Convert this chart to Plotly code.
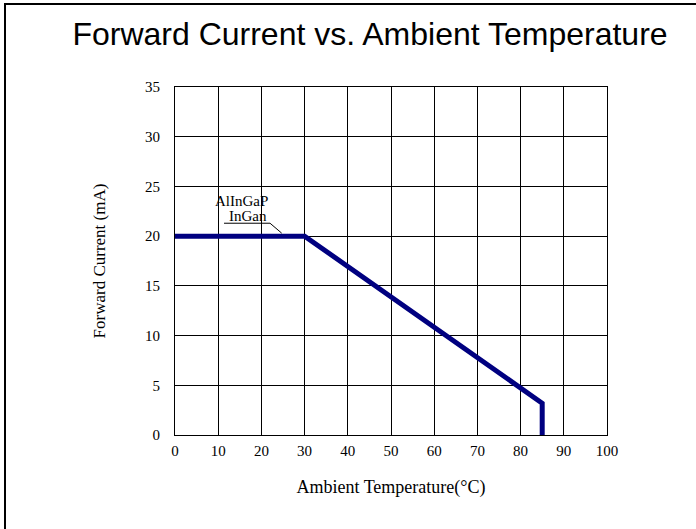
import plotly.graph_objects as go

temp_c = [0, 30, 85, 85]
current_ma = [20, 20, 3.2, 0]

x_ticks = [0, 10, 20, 30, 40, 50, 60, 70, 80, 90, 100]
y_ticks = [0, 5, 10, 15, 20, 25, 30, 35]

label_lines = ["AlInGaP", "InGan"]
label_x = [15.4, 17.0]
label_y = [23.5, 22.0]
leader_x = [11.35, 22.0, 24.7]
leader_y = [21.3, 21.3, 20.3]

W, H = 696, 529
L, R, T, B = 175, 89, 87, 94

fig = go.Figure()
fig.add_trace(go.Scatter(x=temp_c, y=current_ma, mode="lines",
                         line=dict(color="#000080", width=5),
                         hoverinfo="skip", showlegend=False))
fig.add_trace(go.Scatter(x=leader_x, y=leader_y, mode="lines",
                         line=dict(color="black", width=1),
                         hoverinfo="skip", showlegend=False))

serif = "Liberation Serif, Times New Roman, serif"

for txt, xv, yv in zip(label_lines, label_x, label_y):
    fig.add_annotation(x=xv, y=yv, text=txt, showarrow=False,
                       xanchor="center", yanchor="middle",
                       font=dict(family=serif, size=15, color="black"))

# figure border (top and left)
pw = W - L - R
ph = H - T - B
top_y = (H - B - 4) / ph
left_x = (5 - L) / pw
fig.add_shape(type="line", xref="paper", yref="paper",
              x0=(4 - L) / pw, x1=(W - L) / pw, y0=top_y, y1=top_y,
              line=dict(color="black", width=2))
fig.add_shape(type="line", xref="paper", yref="paper",
              x0=left_x, x1=left_x, y0=(H - B - 3) / ph, y1=(-B) / ph,
              line=dict(color="black", width=2))

fig.update_layout(
    width=W, height=H,
    margin=dict(l=L, r=R, t=T, b=B),
    paper_bgcolor="white", plot_bgcolor="white",
    title=dict(text="Forward Current vs. Ambient Temperature",
               x=370 / W, xanchor="center", xref="container",
               y=1 - 34 / H, yanchor="middle", yref="container",
               font=dict(family="Liberation Sans, Arial, sans-serif", size=32, color="black")),
    xaxis=dict(range=[0, 100], tickvals=x_ticks, ticktext=[str(v) for v in x_ticks],
               showgrid=True, gridcolor="black", gridwidth=1,
               showline=True, linecolor="black", linewidth=1, mirror=True,
               zeroline=False, ticks="outside", ticklen=2, tickcolor="rgba(0,0,0,0)",
               tickfont=dict(family=serif, size=15, color="black"),
               title=dict(text="Ambient Temperature(°C)", standoff=22,
                          font=dict(family=serif, size=18, color="black"))),
    yaxis=dict(range=[0, 35], tickvals=y_ticks, ticktext=[str(v) for v in y_ticks],
               showgrid=True, gridcolor="black", gridwidth=1,
               showline=True, linecolor="black", linewidth=1, mirror=True,
               zeroline=False, ticks="outside", ticklen=11, tickcolor="rgba(0,0,0,0)",
               tickfont=dict(family=serif, size=15, color="black"),
               title=dict(text="Forward Current (mA)", standoff=35,
                          font=dict(family=serif, size=17, color="black"))),
)

fig.write_html("out.html", config={"displayModeBar": False},
               post_script="document.body.style.margin='0';")
